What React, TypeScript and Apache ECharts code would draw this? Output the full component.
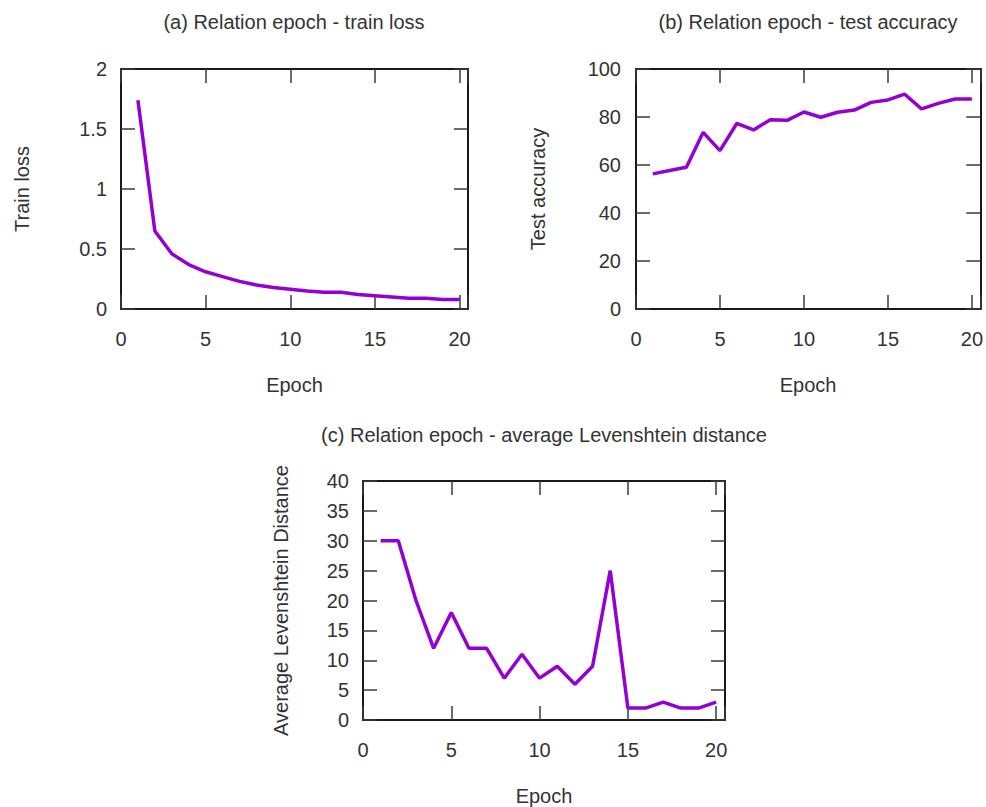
import React, { useEffect, useRef } from "react";
import * as echarts from "echarts";

const epochs = [1, 2, 3, 4, 5, 6, 7, 8, 9, 10, 11, 12, 13, 14, 15, 16, 17, 18, 19, 20];
const trainLoss = [1.74, 0.65, 0.46, 0.37, 0.31, 0.27, 0.23, 0.2, 0.18, 0.165, 0.15, 0.14, 0.14, 0.12, 0.11, 0.1, 0.09, 0.09, 0.08, 0.08];
const testAccuracy = [56.3, 57.7, 59.1, 73.6, 66.0, 77.3, 74.6, 78.9, 78.6, 82.1, 79.9, 82.0, 82.9, 86.1, 87.1, 89.5, 83.4, 85.7, 87.5, 87.5];
const levenshtein = [30, 30, 20, 12, 18, 12, 12, 7, 11, 7, 9, 6, 9, 25, 2, 2, 3, 2, 2, 3];

const titles = [
  "(a) Relation epoch - train loss",
  "(b) Relation epoch - test accuracy",
  "(c) Relation epoch - average Levenshtein distance",
];
const xName = "Epoch";
const yNames = ["Train loss", "Test accuracy", "Average Levenshtein Distance"];
const xTicks = { min: 0, max: 20.5, interval: 5 };
const yTicks = [
  { min: 0, max: 2, interval: 0.5 },
  { min: 0, max: 100, interval: 20 },
  { min: 0, max: 40, interval: 5 },
];

const FONT = "Liberation Sans, Arial, sans-serif";
const TEXT = "#333333";
const LINE = "#9400D3";

export default function App() {
  const ref = useRef<HTMLDivElement>(null);
  useEffect(() => {
    if (!ref.current) return;
    const chart = echarts.init(ref.current, null, { renderer: "svg" });

    const grids = [
      { left: 121, top: 69, width: 347, height: 240 },
      { left: 636, top: 69, width: 345, height: 240 },
      { left: 363, top: 481, width: 362, height: 241 },
    ];
    const yNameGaps = [89, 88, 72];
    const yLabelMargins = [14, 15, 14];
    const seriesData = [trainLoss, testAccuracy, levenshtein];

    const axisLine = { show: true, onZero: false, lineStyle: { color: "#1a1a1a", width: 2 } };
    const axisTick = { show: true, inside: true, length: 14, lineStyle: { color: "#3a3a3a", width: 1.5 } };
    const label = { color: TEXT, fontSize: 20, fontFamily: FONT };

    const xAxis: any[] = [];
    const yAxis: any[] = [];
    const series: any[] = [];
    grids.forEach((g, i) => {
      xAxis.push({
        type: "value",
        gridIndex: i,
        position: "bottom",
        min: xTicks.min,
        max: xTicks.max,
        interval: xTicks.interval,
        name: xName,
        nameLocation: "middle",
        nameGap: 66,
        nameTextStyle: { ...label },
        axisLine,
        axisTick,
        splitLine: { show: false },
        axisLabel: {
          ...label,
          margin: 20,
          formatter: (v: number) => (v % 5 === 0 ? String(v) : ""),
        },
      });
      xAxis.push({
        type: "value",
        gridIndex: i,
        position: "top",
        min: xTicks.min,
        max: xTicks.max,
        interval: xTicks.interval,
        axisLine,
        axisTick,
        splitLine: { show: false },
        axisLabel: { show: false },
      });
      yAxis.push({
        type: "value",
        gridIndex: i,
        position: "left",
        min: yTicks[i].min,
        max: yTicks[i].max,
        interval: yTicks[i].interval,
        name: yNames[i],
        nameLocation: "middle",
        nameRotate: 90,
        nameGap: yNameGaps[i],
        nameTextStyle: { ...label },
        axisLine,
        axisTick,
        splitLine: { show: false },
        axisLabel: { ...label, margin: yLabelMargins[i] },
      });
      yAxis.push({
        type: "value",
        gridIndex: i,
        position: "right",
        min: yTicks[i].min,
        max: yTicks[i].max,
        interval: yTicks[i].interval,
        axisLine,
        axisTick,
        splitLine: { show: false },
        axisLabel: { show: false },
      });
      series.push({
        type: "line",
        xAxisIndex: i * 2,
        yAxisIndex: i * 2,
        data: epochs.map((e, k) => [e, seriesData[i][k]]),
        showSymbol: false,
        symbol: "none",
        lineStyle: { color: LINE, width: 3.5 },
        itemStyle: { color: LINE },
      });
    });

    const titleCenters = [
      { x: 294, y: 12 },
      { x: 808, y: 12 },
      { x: 544, y: 425 },
    ];

    chart.setOption({
      animation: false,
      backgroundColor: "#ffffff",
      title: titles.map((t, i) => ({
        text: t,
        left: titleCenters[i].x,
        top: titleCenters[i].y,
        textAlign: "center",
        padding: 0,
        textStyle: { color: TEXT, fontSize: 20, fontWeight: "normal", fontFamily: FONT },
      })),
      grid: grids.map((g) => ({ ...g, containLabel: false })),
      xAxis,
      yAxis,
      series,
    });
    return () => chart.dispose();
  }, []);

  return (
    <div
      ref={ref}
      style={{ position: "absolute", left: 0, top: 0, width: 986, height: 807, background: "#fff" }}
    />
  );
}
